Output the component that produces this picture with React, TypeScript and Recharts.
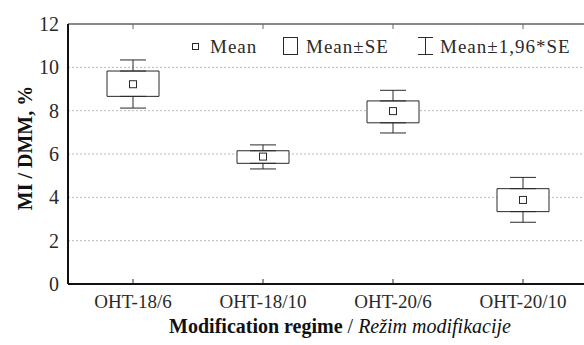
import React from 'react';
import {
  ComposedChart,
  Bar,
  Scatter,
  ErrorBar,
  XAxis,
  YAxis,
  CartesianGrid,
} from 'recharts';

const categories = ['OHT-18/6', 'OHT-18/10', 'OHT-20/6', 'OHT-20/10'];
const means = [9.22, 5.88, 7.98, 3.88];
const seLow = [8.66, 5.57, 7.44, 3.34];
const seHigh = [9.83, 6.15, 8.45, 4.4];
const ciLow = [8.12, 5.31, 6.97, 2.85];
const ciHigh = [10.34, 6.42, 8.94, 4.92];
const yTicks = [0, 2, 4, 6, 8, 10, 12];

const data = categories.map((name, i) => ({
  name,
  mean: means[i],
  se: [seLow[i], seHigh[i]],
  seLow: seLow[i],
  seHigh: seHigh[i],
  errUp: [0, ciHigh[i] - seHigh[i]],
  errDown: [seLow[i] - ciLow[i], 0],
}));

const FONT = "'Liberation Serif', 'Times New Roman', serif";
const INK = '#2a2a2a';

const BottomTick = (props: any) => {
  const { x, y, payload } = props;
  return (
    <g>
      <line x1={x} x2={x} y1={y} y2={y - 5} stroke={INK} strokeWidth={1} />
      <text x={x} y={y + 24} textAnchor="middle" fontFamily={FONT} fontSize={19} fill={INK}>
        {payload.value}
      </text>
    </g>
  );
};

const LeftTick = (props: any) => {
  const { x, y, payload } = props;
  return (
    <text x={x} y={y + 7} textAnchor="end" fontFamily={FONT} fontSize={20} fill={INK}>
      {payload.value}
    </text>
  );
};

const TopTick = (props: any) => {
  const { x, y } = props;
  return <line x1={x} x2={x} y1={y} y2={y + 5} stroke="#666" strokeWidth={1} />;
};

const MeanMark = (props: any) => {
  const { cx, cy } = props;
  return <rect x={cx - 3.5} y={cy - 3.5} width={7} height={7} fill="#fff" stroke={INK} strokeWidth={1} />;
};

const Hidden = () => <g />;

const legendText = { fontFamily: FONT, fontSize: 19, fill: INK, letterSpacing: 1 };

const LegendOverlay = () => (
  <svg width={584} height={70} style={{ position: 'absolute', left: 0, top: 0, pointerEvents: 'none' }}>
    <rect x={192.5} y={43.5} width={6} height={6} fill="#fff" stroke={INK} />
    <text x={210} y={53} style={legendText}>Mean</text>
    <rect x={283.5} y={37.5} width={14} height={17} fill="#fff" stroke={INK} />
    <text x={306} y={53} style={legendText}>Mean±SE</text>
    <line x1={418} x2={433} y1={37.5} y2={37.5} stroke={INK} />
    <line x1={425.5} x2={425.5} y1={37.5} y2={54.5} stroke={INK} />
    <line x1={418} x2={433} y1={54.5} y2={54.5} stroke={INK} />
    <text x={440} y={53} style={legendText}>Mean±1,96*SE</text>
  </svg>
);

export default function App() {
  return (
    <div style={{ position: 'absolute', left: 0, top: 0, width: 584, height: 345, overflow: 'hidden', background: '#fff' }}>
      <ComposedChart
        width={600}
        height={345}
        data={data}
        margin={{ top: 23, right: 12, bottom: 0, left: 0 }}
      >
        <CartesianGrid vertical={false} stroke="#b8b8b8" strokeDasharray="2 2" />
        <XAxis
          xAxisId="top"
          orientation="top"
          dataKey="name"
          height={1}
          axisLine={{ stroke: '#666', strokeWidth: 1.5 }}
          tickLine={false}
          tickSize={0}
          tickMargin={0}
          tick={<TopTick />}
        />
        <XAxis
          dataKey="name"
          height={61}
          axisLine={{ stroke: '#111', strokeWidth: 2 }}
          tickLine={false}
          tickSize={0}
          tickMargin={0}
          tick={<BottomTick />}
          label={{
            content: () => (
              <text x={340} y={333} textAnchor="middle" fontFamily={FONT} fontSize={20} fill="#111">
                <tspan fontWeight="bold">Modification regime</tspan>
                <tspan> / </tspan>
                <tspan fontStyle="italic">Režim modifikacije</tspan>
              </text>
            ),
          }}
        />
        <YAxis
          domain={[0, 12]}
          ticks={yTicks}
          width={68}
          axisLine={{ stroke: '#111', strokeWidth: 2 }}
          tickLine={false}
          tickSize={0}
          tickMargin={9}
          tick={<LeftTick />}
          label={{
            content: () => (
              <text
                transform="translate(32,148) rotate(-90)"
                textAnchor="middle"
                fontFamily={FONT}
                fontSize={20}
                fontWeight="bold"
                fill="#111"
              >
                MI / DMM, %
              </text>
            ),
          }}
        />
        <Scatter dataKey="seHigh" shape={<Hidden />} isAnimationActive={false}>
          <ErrorBar dataKey="errUp" direction="y" width={13} stroke={INK} strokeWidth={1} isAnimationActive={false} />
        </Scatter>
        <Scatter dataKey="seLow" shape={<Hidden />} isAnimationActive={false}>
          <ErrorBar dataKey="errDown" direction="y" width={13} stroke={INK} strokeWidth={1} isAnimationActive={false} />
        </Scatter>
        <Bar dataKey="se" barSize={52} fill="#fff" stroke={INK} strokeWidth={1} isAnimationActive={false} />
        <Scatter dataKey="mean" shape={<MeanMark />} isAnimationActive={false} />
      </ComposedChart>
      <LegendOverlay />
    </div>
  );
}
